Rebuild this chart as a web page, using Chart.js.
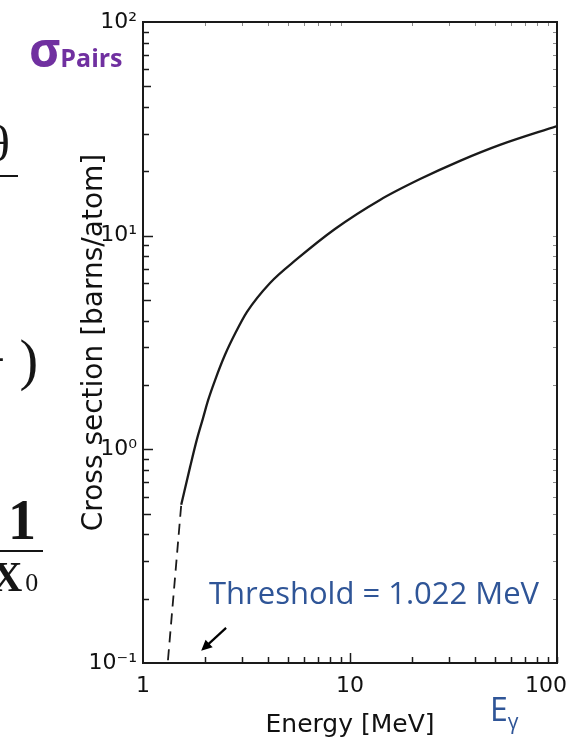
<!DOCTYPE html>
<html>
<head>
<meta charset="utf-8">
<script src="https://cdn.jsdelivr.net/npm/chart.js@4.4.0/dist/chart.umd.min.js"></script>
<style>
  html, body { margin: 0; padding: 0; background: #fff; overflow: hidden; }
  #wrap { position: relative; width: 568px; height: 740px; overflow: hidden; }
  canvas { position: absolute; left: 0; top: 0; }
  .t { position: absolute; white-space: nowrap; line-height: 1; }
  .serif { font-family: 'Liberation Serif', serif; color: #151515; }
  .bar { position: absolute; height: 2px; background: #151515; }
</style>
</head>
<body>
<div id="wrap">
  <canvas id="pairsChart" width="568" height="740"></canvas>

  <!-- bits of the slide's formulas, cut at the left edge -->
  <div class="t serif" style="left:-14px; top:119px; font-size:50px;">θ</div>
  <div class="bar" style="left:0; top:175px; width:18px;"></div>
  <div class="t serif" style="left:-26px; top:332px; font-size:56px;">+ )</div>
  <div class="t serif" style="left:8px; top:492px; font-size:56px; font-weight:bold;">1</div>
  <div class="bar" style="left:0; top:550px; width:43px;"></div>
  <div class="t serif" style="left:-8px; top:556px; font-size:42px; font-weight:bold;">X<span style="font-size:26px; font-weight:normal; margin-left:3px;">0</span></div>

  <div class="t" style="left:29px; top:25px; font-family:'Open Sans'; font-weight:bold; font-size:48px; color:#7030a0;">σ<span style="font-size:25px;">Pairs</span></div>

  <div class="t" style="left:209px; top:577px; font-family:'Open Sans'; font-size:31px; color:#2f5597;">Threshold = 1.022 MeV</div>
  <div class="t" style="left:490px; top:693px; font-family:'Open Sans'; font-size:32px; color:#2f5597;">E<span style="font-size:21px; position:relative; top:8px;">γ</span></div>
</div>

<script>
// cross section of pair production (solid part)
const energyMeV    = [1.53, 1.69, 1.82, 1.95, 2.06, 2.23, 2.49, 2.81, 3.18, 4.11, 5.55, 8.46, 13.96, 21.8, 34.0, 53.0, 100];
const crossSection = [0.55, 0.83, 1.11, 1.40, 1.69, 2.11, 2.77, 3.54, 4.40, 6.01, 7.78, 10.75, 14.7, 18.4, 22.4, 26.6, 32.6];

// dashed part down to threshold
const dashedEnergy = [1.32, 1.53];
const dashedCross  = [0.103, 0.55];

const xTickValues = [1, 10, 100];
const xTickLabels = ['1', '10', '100'];
const yTickValues = [0.1, 1, 10, 100];
const yTickLabels = ['10⁻¹', '10⁰', '10¹', '10²'];

// little arrow pointing at the threshold (energy, cross section)
const arrowTail = [2.52, 0.146];
const arrowHead = [1.91, 0.114];

const toPoints = (xs, ys) => xs.map((x, i) => ({ x: x, y: ys[i] }));

// inward ticks, frame and arrow
const frameTicks = {
  id: 'frameTicks',
  afterDraw(chart) {
    const { ctx, chartArea: a, scales: { x, y } } = chart;
    ctx.save();

    ctx.lineWidth = 1.5;
    ctx.strokeStyle = '#1a1a1a';
    for (const d of [1, 10]) {
      for (let m = 2; m <= 10; m++) {
        const px = Math.round(x.getPixelForValue(m * d)) + 0.5;
        const len = m === 10 && d === 1 ? 10 : 6;
        ctx.beginPath(); ctx.moveTo(px, a.bottom); ctx.lineTo(px, a.bottom - len); ctx.stroke();
      }
    }
    for (const d of [0.1, 1, 10]) {
      for (let m = 1; m <= 9; m++) {
        if (m === 1 && d === 0.1) continue;
        const py = Math.round(y.getPixelForValue(m * d)) + 0.5;
        const len = m === 1 ? 10 : (m === 5 ? 8 : 6);
        ctx.beginPath(); ctx.moveTo(a.left, py); ctx.lineTo(a.left + len, py); ctx.stroke();
      }
    }

    // faint ticks on top and right
    ctx.strokeStyle = '#8a8a8a';
    ctx.lineWidth = 1;
    for (const d of [1, 10]) {
      for (let m = 2; m <= 9; m++) {
        const px = Math.round(x.getPixelForValue(m * d)) + 0.5;
        ctx.beginPath(); ctx.moveTo(px, a.top); ctx.lineTo(px, a.top + 4); ctx.stroke();
      }
    }
    for (const d of [0.1, 1, 10]) {
      for (let m = 1; m <= 9; m++) {
        if (m === 1 && d === 0.1) continue;
        const py = Math.round(y.getPixelForValue(m * d)) + 0.5;
        ctx.beginPath(); ctx.moveTo(a.right, py); ctx.lineTo(a.right - 4, py); ctx.stroke();
      }
    }

    ctx.strokeStyle = '#1a1a1a';
    ctx.lineWidth = 2;
    ctx.strokeRect(a.left, a.top, a.right - a.left, a.bottom - a.top);

    // arrow
    const tx = x.getPixelForValue(arrowTail[0]), ty = y.getPixelForValue(arrowTail[1]);
    const hx = x.getPixelForValue(arrowHead[0]), hy = y.getPixelForValue(arrowHead[1]);
    const ang = Math.atan2(hy - ty, hx - tx);
    ctx.fillStyle = '#000';
    ctx.strokeStyle = '#000';
    ctx.lineWidth = 2.2;
    ctx.beginPath();
    ctx.moveTo(tx, ty);
    ctx.lineTo(hx - 8 * Math.cos(ang), hy - 8 * Math.sin(ang));
    ctx.stroke();
    ctx.beginPath();
    ctx.moveTo(hx, hy);
    ctx.lineTo(hx - 12 * Math.cos(ang - 0.45), hy - 12 * Math.sin(ang - 0.45));
    ctx.lineTo(hx - 12 * Math.cos(ang + 0.45), hy - 12 * Math.sin(ang + 0.45));
    ctx.closePath();
    ctx.fill();

    ctx.restore();
  }
};

const tickFont = { family: 'DejaVu Sans', size: 22 };

new Chart(document.getElementById('pairsChart'), {
  type: 'line',
  data: {
    datasets: [
      {
        data: toPoints(energyMeV, crossSection),
        borderColor: '#1a1a1a',
        borderWidth: 2.3,
        pointRadius: 0,
        cubicInterpolationMode: 'monotone'
      },
      {
        data: toPoints(dashedEnergy, dashedCross),
        borderColor: '#1a1a1a',
        borderWidth: 1.8,
        borderDash: [11, 7],
        pointRadius: 0
      }
    ]
  },
  options: {
    responsive: false,
    animation: false,
    layout: { padding: { left: 76, top: 22, right: 11, bottom: 0 } },
    plugins: {
      legend: { display: false },
      tooltip: { enabled: false }
    },
    scales: {
      x: {
        type: 'logarithmic',
        min: 1,
        max: 100,
        afterBuildTicks: s => { s.ticks = xTickValues.map(v => ({ value: v })); },
        afterFit: s => { s.height = 77; s.paddingLeft = 0; s.paddingRight = 0; },
        grid: { display: false, drawTicks: false },
        border: { display: false },
        ticks: {
          font: tickFont,
          color: '#111',
          padding: 10,
          maxRotation: 0,
          autoSkip: false,
          callback: (v, i, arr) => i === arr.length - 1 ? xTickLabels[i] + '\u2002\u2002' : xTickLabels[i]
        },
        title: {
          display: true,
          text: 'Energy [MeV]',
          font: { family: 'DejaVu Sans', size: 25 },
          color: '#111',
          padding: { top: 0, bottom: 0 }
        }
      },
      y: {
        type: 'logarithmic',
        min: 0.1,
        max: 100,
        afterBuildTicks: s => { s.ticks = yTickValues.map(v => ({ value: v })); },
        afterFit: s => { s.width = 67; s.paddingTop = 0; s.paddingBottom = 0; },
        grid: { display: false, drawTicks: false },
        border: { display: false },
        ticks: {
          font: tickFont,
          color: '#111',
          padding: 6,
          autoSkip: false,
          callback: (v, i) => yTickLabels[i]
        },
        title: {
          display: true,
          text: 'Cross section [barns/atom]',
          font: { family: 'DejaVu Sans', size: 28 },
          color: '#111',
          padding: { top: 2, bottom: 0 }
        }
      }
    }
  },
  plugins: [frameTicks]
});
</script>
</body>
</html>
